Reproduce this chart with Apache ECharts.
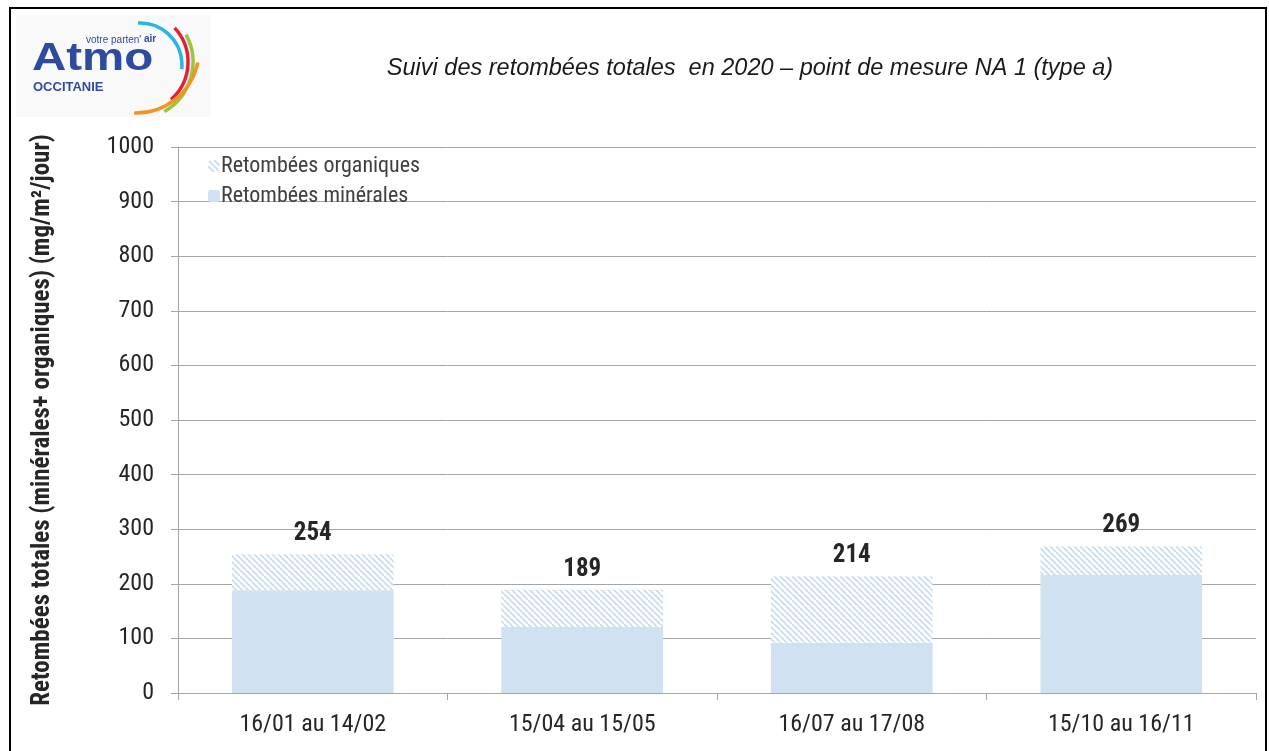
<!DOCTYPE html>
<html>
<head>
<meta charset="utf-8">
<script src="https://cdn.jsdelivr.net/npm/echarts@6/dist/echarts.min.js"></script>
<style>html,body{margin:0;padding:0;background:#fff;}#c{width:1269px;height:751px;}</style>
</head>
<body>
<div id="c"></div>
<script>
const categories = ['16/01 au 14/02', '15/04 au 15/05', '16/07 au 17/08', '15/10 au 16/11'];
const minerales = [188, 121, 92, 216];
const totales = [254, 189, 214, 269];
const organiques = [66, 68, 122, 53];
const yTicks = [0, 100, 200, 300, 400, 500, 600, 700, 800, 900, 1000];

function hatch() {
  const c = document.createElement('canvas');
  c.width = 6; c.height = 6;
  const g = c.getContext('2d');
  g.fillStyle = '#ffffff'; g.fillRect(0, 0, 6, 6);
  g.strokeStyle = '#c6dbf0'; g.lineWidth = 1.6;
  for (let k = -6; k <= 12; k += 6) {
    g.beginPath(); g.moveTo(k, 0); g.lineTo(k + 6, 6); g.stroke();
  }
  return c;
}
const hatchFill = { image: hatch(), repeat: 'repeat' };
const FONT = '"Liberation Sans", Arial, sans-serif';
const NARROW = '"Liberation Sans Narrow", "Arial Narrow", "Roboto Condensed", "Liberation Sans", sans-serif';

const chart = echarts.init(document.getElementById('c'), null, { renderer: 'canvas' });
chart.setOption({
  animation: false,
  backgroundColor: '#ffffff',
  grid: { left: 178, right: 13, top: 147, bottom: 58, containLabel: false },
  legend: {
    orient: 'vertical', left: 203, top: 150, itemWidth: 12, itemHeight: 12, itemGap: 8,
    data: ['Retombées organiques', 'Retombées minérales'],
    textStyle: { fontFamily: NARROW, fontSize: 22, color: '#404040', padding: [0, 0, 0, -4] }
  },
  xAxis: {
    type: 'category', data: categories,
    axisLine: { lineStyle: { color: '#a6a6a6', width: 1 } },
    axisTick: { show: true, length: 7, lineStyle: { color: '#a6a6a6' } },
    axisLabel: { fontFamily: NARROW, fontSize: 24, color: '#262626', margin: 20 }
  },
  yAxis: {
    type: 'value', min: yTicks[0], max: yTicks[yTicks.length - 1], interval: 100,
    name: 'Retombées totales (minérales+ organiques) (mg/m²/jour)',
    nameLocation: 'middle', nameRotate: 90, nameGap: 123,
    nameTextStyle: { fontFamily: NARROW, fontSize: 25, fontWeight: 'bold', color: '#262626' },
    axisLine: { show: true, lineStyle: { color: '#a6a6a6' } },
    axisTick: { show: true, length: 7, lineStyle: { color: '#a6a6a6' } },
    axisLabel: { fontFamily: NARROW, fontSize: 24, color: '#262626', margin: 24, formatter: v => String(v) },
    splitLine: { lineStyle: { color: '#a6a6a6', width: 1 } }
  },
  series: [
    {
      name: 'Retombées minérales', type: 'bar', stack: 't', data: minerales,
      barCategoryGap: '40%',
      itemStyle: { color: '#d0e1f1' }
    },
    {
      name: 'Retombées organiques', type: 'bar', stack: 't', data: organiques,
      itemStyle: { color: hatchFill },
      label: {
        show: true, position: 'top', distance: 8,
        formatter: p => String(totales[p.dataIndex]),
        fontFamily: NARROW, fontSize: 25, fontWeight: 'bold', color: '#262626'
      }
    }
  ],
  graphic: [
    { type: 'rect', shape: { x: 10, y: 8, width: 1256, height: 800 }, style: { fill: 'none', stroke: '#000', lineWidth: 2 }, z: 100 },
    { type: 'rect', shape: { x: 16, y: 15, width: 195, height: 102 }, style: { fill: '#f9f9f9' }, z: -1 },
    { type: 'text', x: 32, y: 41, scaleX: 1.25, style: { text: 'Atmo', font: 'bold 38px ' + FONT, fill: '#2f4b9d' } },
    { type: 'text', x: 86, y: 35, style: { text: "votre parten'", font: '10px ' + FONT, fill: '#2f4b9d' } },
    { type: 'text', x: 144, y: 34, style: { text: 'air', font: 'bold 10px ' + FONT, fill: '#2f4b9d' } },
    { type: 'text', x: 33, y: 81, style: { text: 'OCCITANIE', font: 'bold 13px ' + FONT, fill: '#2f4b9d' } },
    { type: 'arc', shape: { cx: 140, cy: 65, r: 42, startAngle: -1.62, endAngle: 0.1 }, style: { stroke: '#2cb5e4', lineWidth: 3.5, fill: 'none' } },
    { type: 'arc', shape: { cx: 138, cy: 62, r: 50, startAngle: -0.75, endAngle: 0.85 }, style: { stroke: '#e3203b', lineWidth: 3.5, fill: 'none' } },
    { type: 'arc', shape: { cx: 136, cy: 62, r: 57, startAngle: -0.5, endAngle: 1.05 }, style: { stroke: '#9dc43c', lineWidth: 3.5, fill: 'none' } },
    { type: 'arc', shape: { cx: 136, cy: 50, r: 63, startAngle: 0.2, endAngle: 1.6 }, style: { stroke: '#f39323', lineWidth: 3.5, fill: 'none' } },
    { type: 'text', x: 750, y: 68, style: { text: 'Suivi des retombées totales  en 2020 – point de mesure NA 1 (type a)', font: 'italic 23.5px ' + FONT, fill: '#1a1a1a', align: 'center', verticalAlign: 'middle' } }
  ]
});
</script>
</body>
</html>
